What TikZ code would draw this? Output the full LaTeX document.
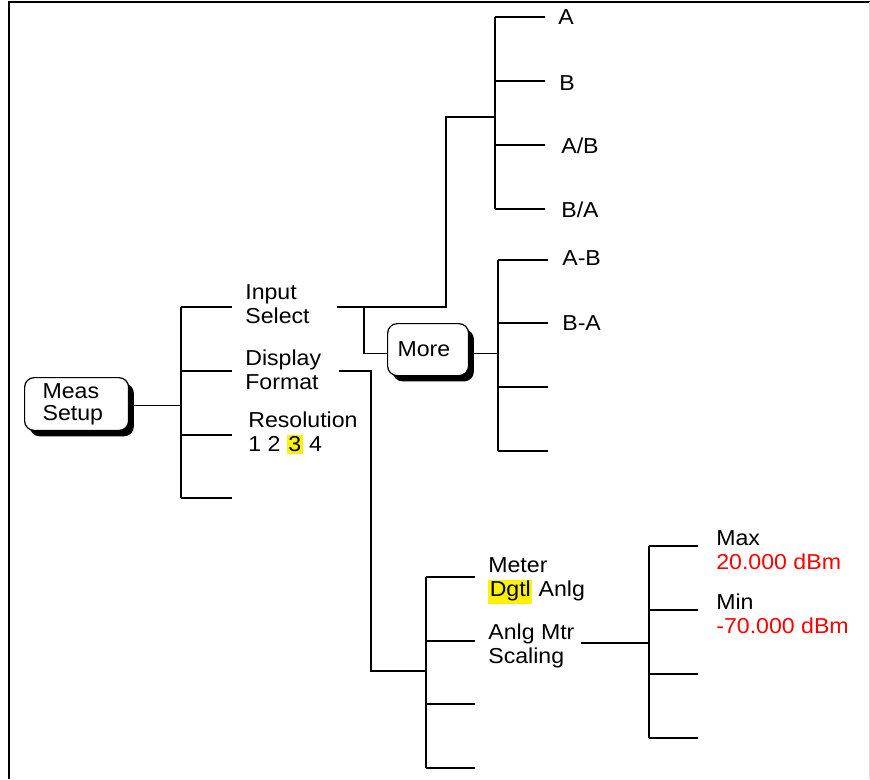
\documentclass[tikz,border=0pt]{standalone}
\usepackage{fontspec}
\setmainfont{Liberation Sans}[FakeStretch=1.07]
\usetikzlibrary{positioning, shadows}

% yellow mark behind the active choice
\newcommand{\hilite}[2][1.5pt]{{\setlength{\fboxsep}{0pt}\colorbox{yellow}{\rule[-#1]{0pt}{\dimexpr 9.4pt+#1\relax}\hspace{0.8pt}#2\hspace{0.8pt}}}}

\begin{document}
\begin{tikzpicture}[
  x=0.02cm, y=-0.02cm,
  every node/.style = {font=\fontsize{12.3}{13.6}\selectfont},
  key/.style = {draw, line width=0.7pt, rounded corners=5.5pt, fill=white, anchor=north west, align=left,
                drop shadow={shadow xshift=3pt, shadow yshift=-3.3pt, fill=black, opacity=1}},
  entry/.style = {anchor=west, align=left, inner sep=0pt},
  wire/.style = {line width=0.75pt}
]
\useasboundingbox (0,0) rectangle (870,779);

% Frame
\draw[line width=1pt] (9,779) -- (9,2) -- (870,2);
\draw[black!12] (869,2) -- (869,779);

% Hard keys
\node[key, minimum width=2.08cm, minimum height=1.0cm, text width=1.36cm, inner xsep=0.36cm] (meas) at (24,377) {Meas\\[-1.2pt]Setup};
\node[key, minimum width=1.62cm, minimum height=1.04cm, text width=1.22cm, inner xsep=0.2cm] (more) at (387,323) {More};

% Main menu
\node[entry] (insel) at (245,304) {Input\\Select};
\node[entry] (dispfmt) at (245,370) {Display\\Format};
\node[entry] (resol) at (248,433) {Resolution\\1 2 \hilite{3} 4};

% Input select menu
\node[entry] (ina) at (558,17) {A};
\node[entry] (inb) at (559,83) {B};
\node[entry] (inab) at (561,146) {A/B};
\node[entry] (inba) at (561,210) {B/A};
\node[entry] (inamb) at (562,258) {A-B};
\node[entry] (inbma) at (562,323) {B-A};

% Display format menu
\node[entry] (meter) at (488,581) {Meter\\\hilite[4.5pt]{Dgtl} Anlg};
\node[entry] (scaling) at (488,646) {Anlg Mtr\\Scaling};

% Scaling menu
\node[entry] (max) at (716,550) {Max\\\textcolor{red}{20.000 dBm}};
\node[entry] (min) at (716,614) {Min\\\textcolor{red}{-70.000 dBm}};

% Menu bars: name / x / branch length / branch heights
\foreach \name/\x/\len/\ya/\yb/\yc/\yd in {
    main/181/51/307/371/435/498,
    input/495/50/17/81/145/209,
    moremenu/498/50/260/323/387/451,
    disp/426/49/577/641/704/768,
    scale/649/49/546/610/674/738} {
  \foreach \y [count=\i] in {\ya,\yb,\yc,\yd} {
    \coordinate (\name\i) at (\x,\y);
    \coordinate (\name\i end) at (\x+\len,\y);
    \draw[wire] (\name\i) -- (\name\i end);
  }
  \draw[wire] (\name1) -- (\name4);
}

% Connectors
\coordinate (inselout) at (337,307);
\coordinate (inselturn) at (446,307);
\coordinate (inputjoin) at (495,117);
\coordinate (moreturn) at (364,307);
\coordinate (dispout) at (339,371);
\coordinate (dispturn) at (371,371);
\coordinate (dispjoin) at (426,671);
\coordinate (scaleout) at (581,643);

\draw[wire] ([yshift=-1pt]meas.east) -- ([yshift=-1pt]meas.east -| main1);
\draw[wire] (inselout) -- (inselturn) |- (inputjoin);
\draw[wire] (moreturn) |- ([yshift=-2.4pt]more.west);
\draw[wire] ([yshift=-2.2pt]more.east) -- ([yshift=-2.2pt]more.east -| moremenu1);
\draw[wire] (dispout) -- (dispturn) |- (dispjoin);
\draw[wire] (scaleout) -- (scaleout -| scale1);
\end{tikzpicture}
\end{document}
